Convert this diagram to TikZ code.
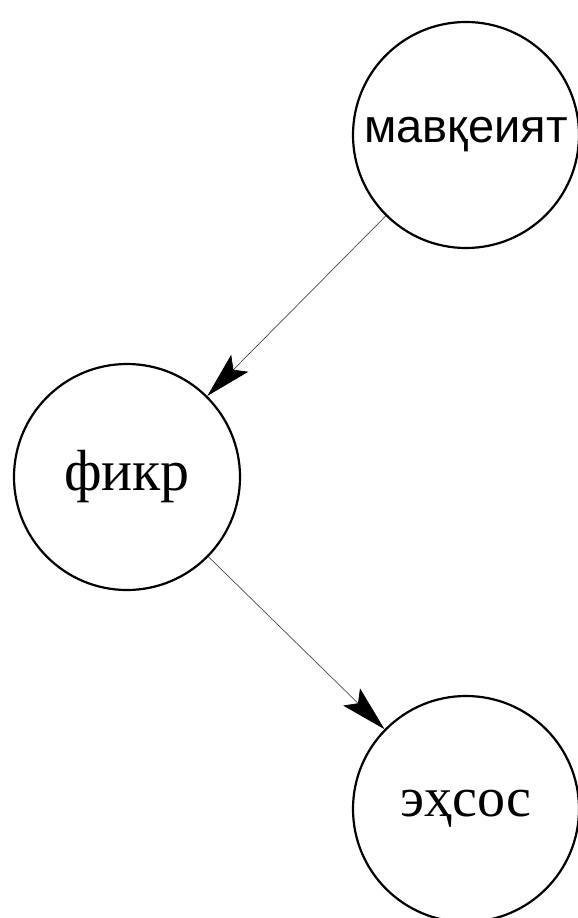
\documentclass[tikz,border=0pt]{standalone}
\usepackage{fontspec}
\setmainfont{Liberation Serif}
\newfontfamily\sansfnt{Liberation Sans}
\usetikzlibrary{arrows.meta}
\begin{document}
\begin{tikzpicture}[x=1pt,y=-1pt,
  state/.style={circle,draw=black,line width=2.2pt,minimum size=226pt,inner sep=0pt,fill=white},
  conn/.style={draw=black!70,line width=0.7pt,-{Stealth[length=46pt,width=24pt,inset=9pt,color=black]}}]
\useasboundingbox (0,0) rectangle (578,918);
\fill[white] (0,0) rectangle (578,918);
\node[state] (m) at (466,135) {\sansfnt\fontsize{47}{50}\selectfont мавқеият};
\node[state] (f) at (127,477) {\fontsize{58}{62}\selectfont фикр};
\node[state] (e) at (466,809) {\fontsize{56}{60}\selectfont эҳсос};
\draw[conn] (m) -- (f);
\draw[conn] (f) -- (e);
\end{tikzpicture}
\end{document}
